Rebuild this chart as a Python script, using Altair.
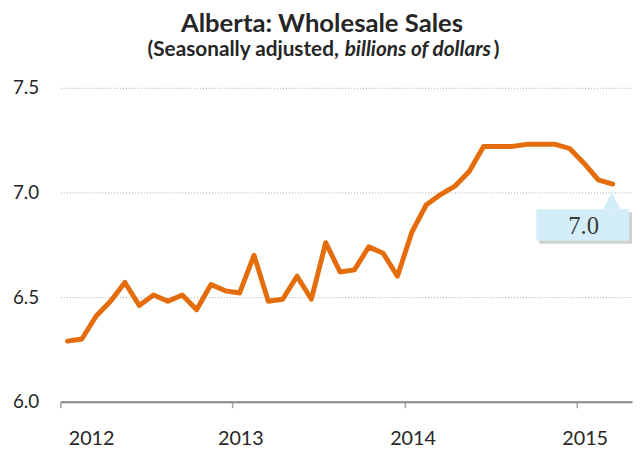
import altair as alt
import pandas as pd

# ---- data ----
years = [2012, 2013, 2014, 2015]
months = [f"{y}-{m:02d}" for y in years for m in range(1, 13)][:39]
sales = [6.29, 6.30, 6.41, 6.48, 6.57, 6.46, 6.51, 6.48, 6.51, 6.44, 6.56, 6.53,
         6.52, 6.70, 6.48, 6.49, 6.60, 6.49, 6.76, 6.62, 6.63, 6.74, 6.71, 6.60,
         6.81, 6.94, 6.99, 7.03, 7.10, 7.22, 7.22, 7.22, 7.23, 7.23, 7.23, 7.21,
         7.14, 7.06, 7.04]
y_ticks = [6.0, 6.5, 7.0, 7.5]
year_labels = [str(y) for y in years]
title_text = "Alberta: Wholesale Sales"
sub_1 = "(Seasonally adjusted,"
sub_2 = "billions of dollars"
sub_3 = ")"
callout_text = f"{sales[-1]:.1f}"

df = pd.DataFrame({
    "month": months,
    "pos": [i + 0.5 for i in range(len(months))],
    "sales": sales,
})
one = pd.DataFrame({"k": [0]})  # single row for annotation marks

FONT = "Lato"
TXT = "#262626"
ORANGE = "#E46C0A"
BOX = "#D4EEF9"

line = alt.Chart(df).mark_line(color=ORANGE, strokeWidth=5, strokeJoin="round",
                               strokeCap="round").encode(
    x=alt.X("pos:Q",
            scale=alt.Scale(domain=[0, 39.85], nice=False, zero=False),
            axis=alt.Axis(values=[0, 12, 24, 36],
                          labelExpr="format(2012 + datum.value / 12, 'd')",
                          title=None, grid=False,
                          domainColor="#868686", domainWidth=2,
                          tickColor="#a6a6a6", tickWidth=1.5, tickSize=6,
                          labelOffset=8, labelPadding=21,
                          labelFont=FONT, labelFontSize=20, labelColor=TXT)),
    y=alt.Y("sales:Q",
            scale=alt.Scale(domain=[6.0, 7.5], nice=False, zero=False),
            axis=alt.Axis(values=y_ticks, format=".1f", title=None,
                          domain=False, ticks=False, labelPadding=22,
                          grid=True, gridColor="#a6a6a6", gridDash=[1, 2], gridWidth=1,
                          labelFont=FONT, labelFontSize=19, labelColor=TXT)),
)

ann = alt.Chart(one)

# title texts (positions in plot pixel coordinates)
title = ann.mark_text(text=title_text, font=FONT, fontSize=26, fontWeight="bold",
                      color=TXT, align="center", baseline="alphabetic").encode(
    x=alt.value(265), y=alt.value(-57))
s1 = ann.mark_text(text=sub_1, font=FONT, fontSize=21, fontWeight="bold",
                   color=TXT, align="right", baseline="alphabetic").encode(
    x=alt.value(282), y=alt.value(-32))
s2 = ann.mark_text(text=sub_2, font=FONT, fontSize=21, fontWeight="bold", fontStyle="italic",
                   color=TXT, align="left", baseline="alphabetic").encode(
    x=alt.value(288), y=alt.value(-32))
s3 = ann.mark_text(text=sub_3, font=FONT, fontSize=21, fontWeight="bold",
                   color=TXT, align="left", baseline="alphabetic").encode(
    x=alt.value(439), y=alt.value(-32))

# callout
shadow = ann.mark_rect(color="#8c8c8c", opacity=0.4).encode(
    x=alt.value(485), x2=alt.value(579), y=alt.value(126), y2=alt.value(158))
box = ann.mark_rect(color=BOX).encode(
    x=alt.value(482), x2=alt.value(576), y=alt.value(123), y2=alt.value(155))
pointer = ann.mark_point(shape="M-0.95,1 L0,-1 L0.95,1 Z", filled=True, color=BOX,
                         opacity=1, size=324, strokeWidth=0).encode(
    x=alt.value(558.5), y=alt.value(114))
label = ann.mark_text(text=callout_text, font="Liberation Serif", fontSize=25,
                      fontWeight="normal", color="#3a3a3a",
                      align="center", baseline="middle").encode(
    x=alt.value(530), y=alt.value(140))

chart = alt.layer(line, shadow, box, pointer, label, title, s1, s2, s3).properties(
    width=579, height=318,
    autosize=alt.AutoSizeParams(type="none"),
    padding={"left": 53, "top": 78, "right": 1, "bottom": 45},
).configure_view(stroke=None)

chart.save("out.html", embed_options={"renderer": "svg", "actions": False})
